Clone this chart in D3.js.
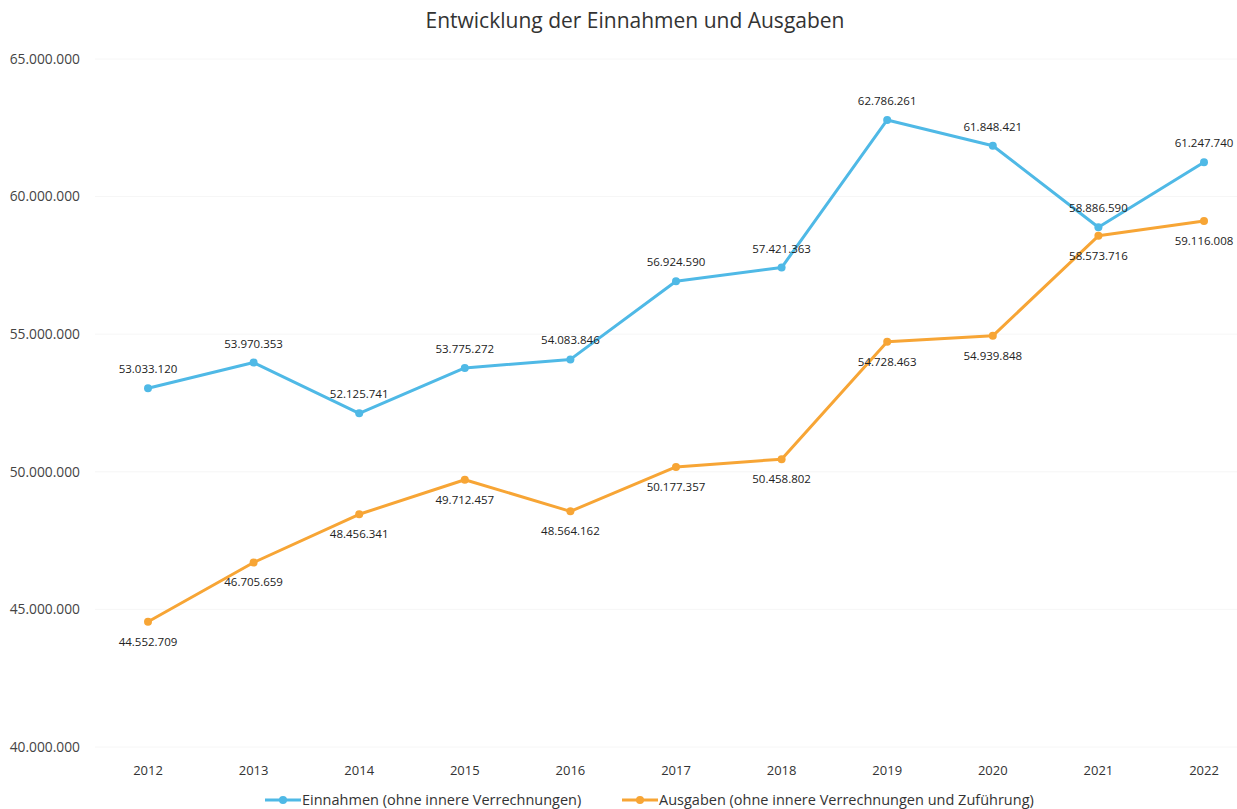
<!DOCTYPE html>
<html>
<head>
<meta charset="utf-8">
<script src="https://cdn.jsdelivr.net/npm/d3@7"></script>
<style>
  body { margin: 0; background: #fff; }
  svg { display: block; font-family: "Open Sans", "DejaVu Sans", sans-serif; }
</style>
</head>
<body>
<svg id="chart" width="1237" height="809"></svg>
<script>
/* ── DATA ─────────────────────────────────────────────── */
const years = ["2012", "2013", "2014", "2015", "2016", "2017", "2018", "2019", "2020", "2021", "2022"];

const einnahmen = [53033120, 53970353, 52125741, 53775272, 54083846, 56924590,
                   57421363, 62786261, 61848421, 58886590, 61247740];

const ausgaben  = [44552709, 46705659, 48456341, 49712457, 48564162, 50177357,
                   50458802, 54728463, 54939848, 58573716, 59116008];

const yTicks = [40000000, 45000000, 50000000, 55000000, 60000000, 65000000];

const seriesNames = [
  "Einnahmen (ohne innere Verrechnungen)",
  "Ausgaben (ohne innere Verrechnungen und Zuführung)"
];

/* ── CONFIG ───────────────────────────────────────────── */
const BLUE = "#4fb9e6", ORANGE = "#f7a535";
const fmt = d3.formatLocale({ decimal: ",", thousands: ".", grouping: [3], currency: ["", "€"] }).format(",d");

const svg = d3.select("#chart");

const x = d3.scalePoint().domain(years).range([148, 1204]);
const y = d3.scaleLinear().domain([40000000, 65000000]).range([747, 59]);

/* gridlines, barely visible in the scan */
svg.append("g")
  .selectAll("line")
  .data(yTicks)
  .join("line")
  .attr("x1", 95).attr("x2", 1237)
  .attr("y1", d => y(d)).attr("y2", d => y(d))
  .attr("stroke", "#f6f6f6")
  .attr("stroke-width", 1);

/* y axis labels */
svg.append("g")
  .selectAll("text")
  .data(yTicks)
  .join("text")
  .attr("x", 80)
  .attr("y", d => y(d))
  .attr("dy", "0.35em")
  .attr("text-anchor", "end")
  .attr("font-size", 13.8)
  .attr("fill", "#444")
  .text(d => fmt(d));

/* x axis labels */
svg.append("g")
  .selectAll("text")
  .data(years)
  .join("text")
  .attr("x", d => x(d))
  .attr("y", 770)
  .attr("dy", "0.35em")
  .attr("text-anchor", "middle")
  .attr("font-size", 13)
  .attr("fill", "#333")
  .text(d => d);

/* title */
svg.append("text")
  .attr("x", 635).attr("y", 21)
  .attr("dy", "0.35em")
  .attr("text-anchor", "middle")
  .attr("font-size", 21)
  .attr("fill", "#333")
  .text("Entwicklung der Einnahmen und Ausgaben");

/* ── SERIES ───────────────────────────────────────────── */
const line = d3.line().x((d, i) => x(years[i])).y(d => y(d));

function drawSeries(values, color, labelOffset) {
  const g = svg.append("g");
  g.append("path")
    .datum(values)
    .attr("d", line)
    .attr("fill", "none")
    .attr("stroke", color)
    .attr("stroke-width", 3)
    .attr("stroke-linejoin", "round");

  g.selectAll("circle")
    .data(values)
    .join("circle")
    .attr("cx", (d, i) => x(years[i]))
    .attr("cy", d => y(d))
    .attr("r", 4)
    .attr("fill", color);

  g.selectAll("text")
    .data(values)
    .join("text")
    .attr("x", (d, i) => x(years[i]))
    .attr("y", d => y(d) + labelOffset)
    .attr("dy", "0.35em")
    .attr("text-anchor", "middle")
    .attr("font-size", 11.5)
    .attr("fill", "#222")
    .text(d => fmt(d));
}

drawSeries(einnahmen, BLUE, -19);
drawSeries(ausgaben, ORANGE, 20);

/* ── LEGEND ───────────────────────────────────────────── */
const legend = [
  { name: seriesNames[0], color: BLUE,   x: 265 },
  { name: seriesNames[1], color: ORANGE, x: 622 }
];
const lg = svg.append("g")
  .selectAll("g")
  .data(legend)
  .join("g")
  .attr("transform", d => `translate(${d.x},800)`);

lg.append("line")
  .attr("x1", 0).attr("x2", 36)
  .attr("stroke", d => d.color)
  .attr("stroke-width", 3);
lg.append("circle")
  .attr("cx", 18).attr("r", 4)
  .attr("fill", d => d.color);
lg.append("text")
  .attr("x", 37)
  .attr("dy", "0.35em")
  .attr("font-size", 14.5)
  .attr("fill", "#333")
  .text(d => d.name);
</script>
</body>
</html>
